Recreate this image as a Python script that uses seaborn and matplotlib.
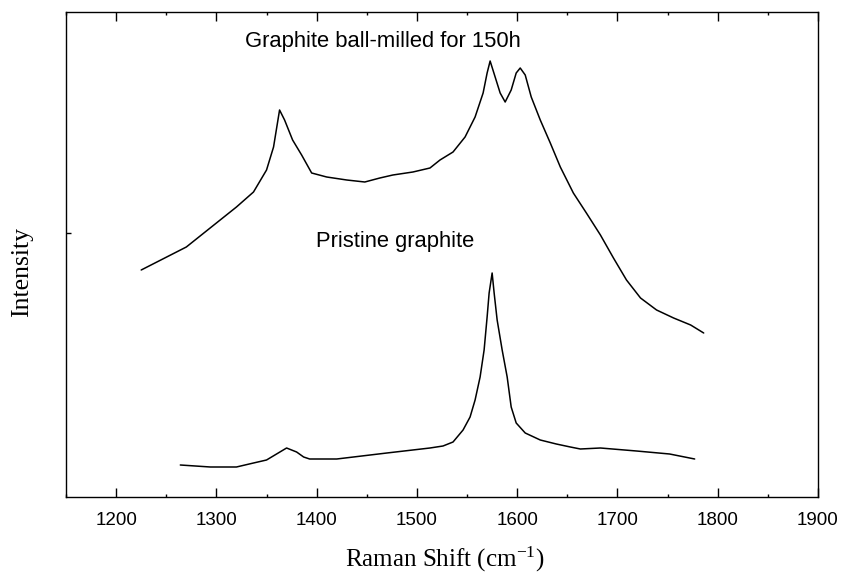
import numpy as np
import pandas as pd
import matplotlib
matplotlib.use("Agg")
import matplotlib.pyplot as plt
import seaborn as sns
from matplotlib.ticker import MultipleLocator

# Ball-milled (150 h) graphite spectrum
milled_shift = [1225, 1270, 1300, 1320, 1337, 1350, 1357, 1363, 1368, 1376, 1385, 1395,
                1410, 1430, 1448, 1463, 1476, 1496, 1513, 1523, 1536, 1548, 1558, 1566,
                1570, 1573, 1578, 1583, 1588, 1594, 1599, 1603, 1608, 1614, 1623, 1633,
                1643, 1656, 1669, 1683, 1696, 1709, 1723, 1739, 1756, 1773, 1786]
milled_int = [227, 250, 274, 290, 305, 327, 350, 387, 377, 357, 342, 324,
              320, 317, 315, 319, 322, 325, 329, 337, 345, 360, 380, 404,
              424, 436, 420, 404, 395, 407, 424, 429, 422, 400, 377, 354,
              330, 304, 284, 262, 239, 217, 199, 187, 179, 172, 164]

# Pristine graphite spectrum
pristine_shift = [1264, 1294, 1320, 1337, 1350, 1360, 1370, 1380, 1387, 1393, 1420, 1470,
                  1513, 1526, 1536, 1546, 1553, 1558, 1563, 1567, 1570, 1572, 1575, 1577,
                  1580, 1585, 1590, 1594, 1599, 1608, 1623, 1639, 1653, 1663, 1683, 1719,
                  1752, 1777]
pristine_int = [32, 30, 30, 34, 37, 43, 49, 45, 40, 38, 38, 44,
                49, 51, 55, 67, 80, 97, 120, 147, 180, 204, 224, 204,
                177, 147, 120, 90, 74, 64, 57, 53, 50, 48, 49, 46,
                43, 38]

labels = ["Graphite ball-milled for 150h", "Pristine graphite"]
x_ticks = [1200, 1300, 1400, 1500, 1600, 1700, 1800, 1900]

df = pd.concat([
    pd.DataFrame({"shift": milled_shift, "intensity": milled_int, "sample": labels[0]}),
    pd.DataFrame({"shift": pristine_shift, "intensity": pristine_int, "sample": labels[1]}),
])

sns.set_style("ticks")
plt.rcParams["font.family"] = ["Liberation Sans", "DejaVu Sans"]
plt.rcParams["text.color"] = "black"
plt.rcParams["axes.labelcolor"] = "black"
plt.rcParams["xtick.color"] = "black"
plt.rcParams["ytick.color"] = "black"
plt.rcParams["mathtext.fontset"] = "custom"
plt.rcParams["mathtext.rm"] = "Liberation Serif"
plt.rcParams["mathtext.default"] = "rm"

fig = plt.figure(figsize=(8.43, 5.75), dpi=100)
ax = fig.add_axes([66/843, 1-497/575, 752/843, 485/575])

sns.lineplot(data=df, x="shift", y="intensity", hue="sample",
             palette={labels[0]: "black", labels[1]: "black"},
             estimator=None, sort=False, linewidth=1.1, legend=False, ax=ax)

ax.set_xlim(1150, 1900)
ax.set_ylim(0, 485)
ax.set_xticks(x_ticks)
ax.xaxis.set_minor_locator(MultipleLocator(50))
ax.set_yticks([264])
ax.set_yticklabels([])

for s in ax.spines.values():
    s.set_visible(True)
    s.set_linewidth(1.0)
    s.set_color("black")

ax.tick_params(axis="x", which="major", direction="in", length=6.5, width=1.0,
               top=True, bottom=True, pad=11, labelsize=13.5, colors="black")
ax.tick_params(axis="x", which="minor", direction="in", length=2.5, width=1.0,
               top=True, bottom=True)
ax.tick_params(axis="y", which="major", direction="in", length=3.5, width=1.0,
               left=True, right=False)

ax.set_xlabel("Raman Shift (cm$^{-1}$)", family="Liberation Serif", fontsize=18)
ax.xaxis.set_label_coords(0.504, -0.128)
ax.xaxis.label.set_va("center")
ax.set_ylabel("Intensity", family="Liberation Serif", fontsize=18.5)
ax.yaxis.set_label_coords(-0.0585, 0.464)
ax.yaxis.label.set_va("center")

ax.text(1328.5, 455, labels[0], fontsize=15.8, va="center", ha="left")
ax.text(1399, 255, labels[1], fontsize=15.8, va="center", ha="left")

fig.savefig("out.png", dpi=100)
